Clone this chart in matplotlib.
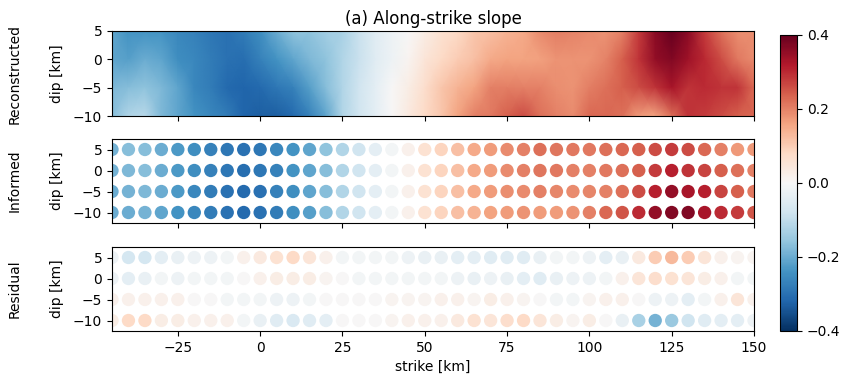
import numpy as np
import matplotlib
matplotlib.use("Agg")
import matplotlib.pyplot as plt

# ---- data ----
strike = list(range(-45, 151, 5))          # 40 columns, km
dip = [5, 0, -5, -10]                       # km

informed_dip5 = [-0.19, -0.17, -0.17, -0.20, -0.23, -0.25, -0.27, -0.29, -0.30, -0.29,
                 -0.26, -0.24, -0.21, -0.16, -0.12, -0.08, -0.04, -0.01, 0.02, 0.06,
                 0.09, 0.12, 0.15, 0.17, 0.19, 0.20, 0.22, 0.215, 0.21, 0.21,
                 0.22, 0.23, 0.24, 0.26, 0.28, 0.26, 0.23, 0.20, 0.175, 0.175]
informed_dip0 = [-0.19, -0.18, -0.17, -0.20, -0.23, -0.25, -0.27, -0.29, -0.305, -0.29,
                 -0.27, -0.24, -0.21, -0.17, -0.12, -0.08, -0.04, -0.01, 0.02, 0.06,
                 0.09, 0.12, 0.15, 0.17, 0.19, 0.20, 0.215, 0.21, 0.20, 0.20,
                 0.21, 0.22, 0.24, 0.28, 0.31, 0.29, 0.27, 0.24, 0.22, 0.20]
informed_dipm5 = [-0.20, -0.19, -0.18, -0.20, -0.23, -0.26, -0.28, -0.30, -0.31, -0.30,
                  -0.27, -0.25, -0.21, -0.17, -0.12, -0.08, -0.04, -0.01, 0.02, 0.06,
                  0.09, 0.12, 0.15, 0.17, 0.185, 0.19, 0.20, 0.195, 0.19, 0.195,
                  0.20, 0.22, 0.26, 0.31, 0.35, 0.33, 0.31, 0.27, 0.24, 0.21]
informed_dipm10 = [-0.20, -0.20, -0.19, -0.21, -0.24, -0.26, -0.28, -0.30, -0.31, -0.30,
                   -0.28, -0.25, -0.22, -0.17, -0.12, -0.08, -0.04, -0.01, 0.02, 0.06,
                   0.09, 0.12, 0.14, 0.16, 0.17, 0.18, 0.17, 0.17, 0.18, 0.20,
                   0.23, 0.25, 0.30, 0.35, 0.37, 0.37, 0.33, 0.30, 0.28, 0.25]

residual_dip5 = [-0.02, -0.07, -0.07, -0.04, -0.03, -0.02, -0.02, -0.01, 0.02, 0.04,
                 0.06, 0.08, 0.05, 0.02, -0.01, -0.01, -0.01, -0.01, -0.02, -0.03,
                 -0.03, -0.04, -0.04, -0.05, -0.05, -0.05, -0.03, -0.01, -0.01, -0.02,
                 -0.04, -0.03, 0.04, 0.10, 0.13, 0.10, 0.05, 0.02, 0.01, 0.01]
residual_dip0 = [-0.02, -0.04, -0.03, -0.01, -0.02, -0.01, -0.01, -0.01, 0.00, 0.02,
                 0.03, 0.03, 0.03, 0.01, 0.00, -0.01, -0.01, -0.01, -0.01, -0.01,
                 -0.01, -0.02, -0.03, -0.02, -0.03, -0.04, -0.05, -0.03, -0.02, -0.02,
                 -0.01, 0.02, 0.05, 0.07, 0.06, 0.05, 0.03, 0.02, -0.01, -0.01]
residual_dipm5 = [0.02, 0.02, 0.02, 0.02, 0.02, 0.00, 0.00, -0.01, -0.01, -0.01,
                  -0.02, -0.02, -0.01, 0.00, 0.00, 0.00, 0.00, 0.01, 0.01, 0.01,
                  0.02, 0.02, 0.01, 0.03, 0.02, 0.01, 0.00, -0.01, -0.01, 0.01,
                  0.02, 0.02, 0.00, -0.02, -0.02, -0.04, -0.01, 0.02, 0.05, 0.02]
residual_dipm10 = [0.03, 0.08, 0.08, 0.03, 0.03, 0.02, 0.02, 0.02, -0.01, -0.03,
                   -0.05, -0.06, -0.05, -0.04, 0.00, 0.00, 0.00, 0.01, 0.02, 0.02,
                   0.02, 0.04, 0.06, 0.05, 0.07, 0.08, 0.05, 0.03, 0.01, 0.03,
                   0.00, -0.03, -0.13, -0.19, -0.15, -0.08, -0.05, -0.04, -0.04, -0.02]

informed = np.array([informed_dip5, informed_dip0, informed_dipm5, informed_dipm10])
residual = np.array([residual_dip5, residual_dip0, residual_dipm5, residual_dipm10])
reconstructed = informed + residual

xticks = [-25, 0, 25, 50, 75, 100, 125, 150]
yticks = [5, 0, -5, -10]
cbar_ticks = [-0.4, -0.2, 0.0, 0.2, 0.4]

# ---- figure ----
FS = 10
plt.rcParams['font.size'] = FS
fig = plt.figure(figsize=(8.49, 3.84), dpi=100)
W, H = 849, 384


def ax_rect(x0, y0, x1, y1):
    return [x0 / W, 1 - y1 / H, (x1 - x0) / W, (y1 - y0) / H]


ax1 = fig.add_axes(ax_rect(112, 31, 754, 116))
ax2 = fig.add_axes(ax_rect(112, 139, 754, 223), sharex=ax1)
ax3 = fig.add_axes(ax_rect(112, 247, 754, 331), sharex=ax1)
cax = fig.add_axes(ax_rect(780, 35, 797, 331))

cmap = 'RdBu_r'
vmin, vmax = -0.4, 0.4

X, Y = np.meshgrid(np.array(strike, float), np.array(dip, float))
mesh = ax1.pcolormesh(X, Y, reconstructed, shading='gouraud', cmap=cmap,
                      vmin=vmin, vmax=vmax, rasterized=True)
ax1.set_xlim(-45, 150)
ax1.set_ylim(-10, 5)
ax1.set_yticks(yticks)
ax1.set_title('(a) Along-strike slope', fontsize=12, pad=5)

for ax, vals in ((ax2, informed), (ax3, residual)):
    ax.scatter(X.ravel(), Y.ravel(), c=vals.ravel(), cmap=cmap, vmin=vmin, vmax=vmax,
               s=92, linewidths=0, clip_on=True)
    ax.set_ylim(-12.5, 7.5)
    ax.set_yticks(yticks)

ax1.set_xticks(xticks)
ax1.set_xlim(-45, 150)
for ax in (ax1, ax2):
    ax.tick_params(labelbottom=False)

ax3.set_xlabel('strike [km]')
for ax, name in ((ax1, 'Reconstructed'), (ax2, 'Informed'), (ax3, 'Residual')):
    ax.set_ylabel('dip [km]')
    ax.yaxis.set_label_coords(-0.075, 0.5)
    bb = ax.get_position()
    fig.text(15 / W, bb.y0 + bb.height / 2, name, rotation=90, ha='center', va='center',
             fontsize=FS)

cb = fig.colorbar(mesh, cax=cax, ticks=cbar_ticks)
cb.ax.tick_params(labelsize=FS)

fig.savefig('out.png', dpi=100)
